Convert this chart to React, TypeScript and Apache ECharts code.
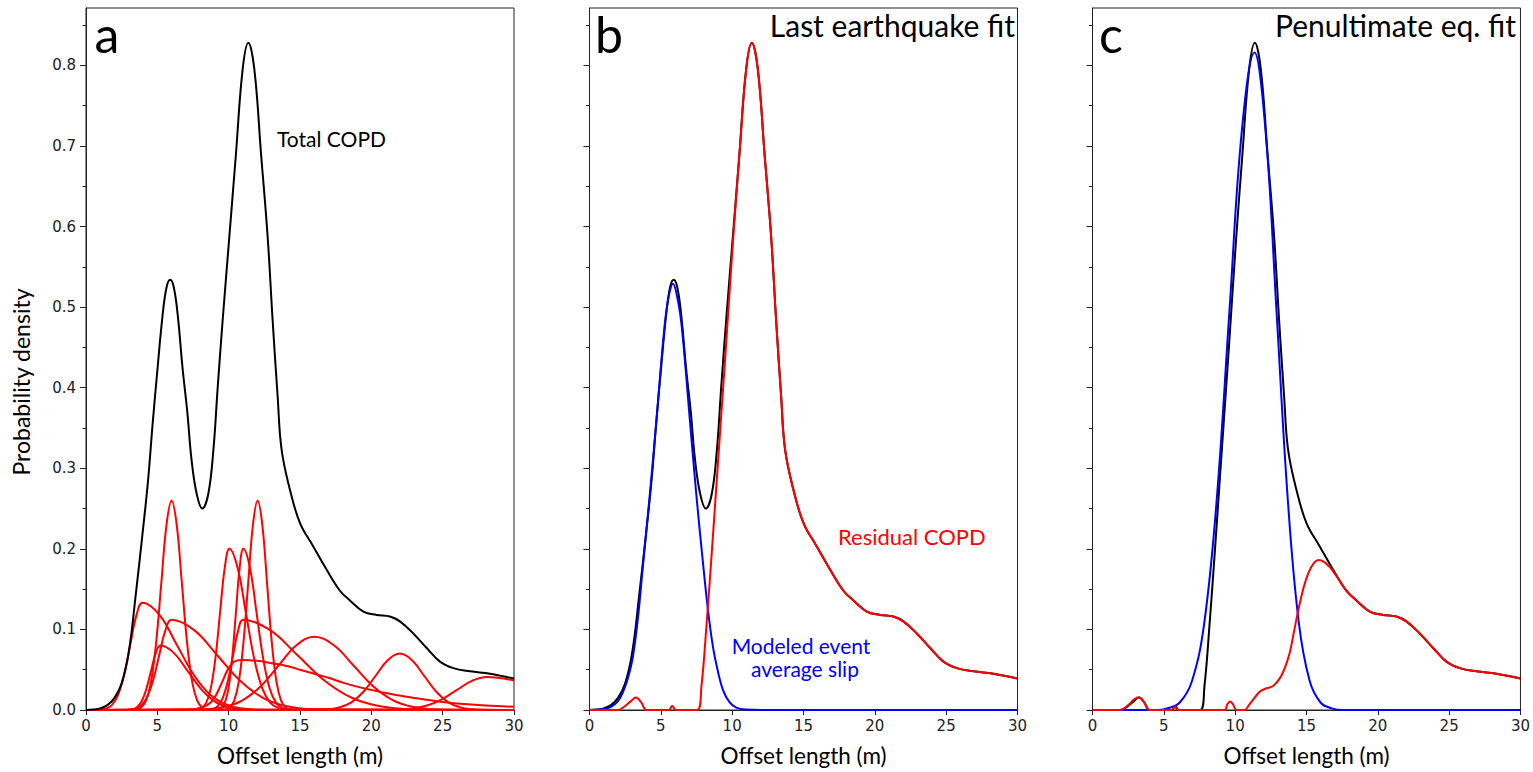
import React, { useEffect, useRef } from "react";
import * as echarts from "echarts";

// ---- tick values ----
const xTicks = [0, 5, 10, 15, 20, 25, 30];
const yTicks = [0, 0.1, 0.2, 0.3, 0.4, 0.5, 0.6, 0.7, 0.8];
const yMinorTicks = [0.05, 0.15, 0.25, 0.35, 0.45, 0.55, 0.65, 0.75, 0.85];

// ---- panel a: total COPD (black) ----
const totalCOPD: number[][] = [
  [0, 0], [0.5, 0.0005], [1, 0.002], [1.5, 0.006], [2, 0.015], [2.5, 0.033], [3, 0.072], [3.5, 0.145],
  [4, 0.225], [4.35, 0.285], [4.67, 0.355], [5.02, 0.425], [5.37, 0.49], [5.65, 0.525], [5.9, 0.534],
  [6.15, 0.525], [6.43, 0.49], [6.78, 0.422], [7.1, 0.37], [7.4, 0.31], [7.76, 0.268], [8.15, 0.25],
  [8.57, 0.268], [8.93, 0.323], [9.23, 0.4], [9.58, 0.484], [10.05, 0.588], [10.51, 0.69], [10.98, 0.795],
  [11.38, 0.828], [11.8, 0.795], [12.27, 0.69], [12.73, 0.588], [13.08, 0.484], [13.43, 0.39], [13.71, 0.323],
  [14.3, 0.273], [15, 0.232], [15.93, 0.203], [16.87, 0.174], [17.8, 0.148], [18.5, 0.136], [19.44, 0.122],
  [20.37, 0.118], [21.3, 0.116], [22, 0.11], [22.94, 0.095], [23.88, 0.077], [24.81, 0.06], [25.75, 0.052],
  [26.92, 0.048], [28.32, 0.045], [30, 0.039],
];

// ---- panel a: individual offset PDFs (red) ----
const redA: number[][] = [[0, 0], [0.925, 0.0003], [1.36, 0.0015], [1.795, 0.0058], [2.23, 0.018], [2.665, 0.0432], [3.1, 0.0807], [3.535, 0.1174], [3.97, 0.133], [5.17, 0.1174], [6.37, 0.0807], [7.57, 0.0432], [8.77, 0.018], [9.97, 0.0058], [11.17, 0.0015], [12.37, 0.0003], [30, 0]];
const redB: number[][] = [[0, 0], [3.48, 0.0006], [3.84, 0.0029], [4.2, 0.0114], [4.56, 0.0352], [4.92, 0.0844], [5.28, 0.1577], [5.64, 0.2295], [6.0, 0.26], [6.36, 0.2295], [6.72, 0.1577], [7.08, 0.0844], [7.44, 0.0352], [7.8, 0.0114], [8.16, 0.0029], [8.52, 0.0006], [30, 0]];
const redC: number[][] = [[0, 0], [2.955, 0.0002], [3.39, 0.0012], [3.825, 0.0049], [4.26, 0.0152], [4.695, 0.0364], [5.13, 0.0679], [5.565, 0.0988], [6.0, 0.112], [7.6, 0.0988], [9.2, 0.0679], [10.8, 0.0364], [12.4, 0.0152], [14.0, 0.0049], [15.6, 0.0012], [17.2, 0.0002], [30, 0]];
const redD: number[][] = [[0, 0], [2.91, 0.0002], [3.24, 0.0009], [3.57, 0.0035], [3.9, 0.0108], [4.23, 0.026], [4.56, 0.0485], [4.89, 0.0706], [5.22, 0.08], [6.17, 0.0706], [7.12, 0.0485], [8.07, 0.026], [9.02, 0.0108], [9.97, 0.0035], [10.92, 0.0009], [11.87, 0.0002], [30, 0]];
const redE: number[][] = [[0, 0], [7.775, 0.0004], [8.1, 0.0022], [8.425, 0.0088], [8.75, 0.0271], [9.075, 0.0649], [9.4, 0.1213], [9.725, 0.1765], [10.05, 0.2], [10.625, 0.1765], [11.2, 0.1213], [11.775, 0.0649], [12.35, 0.0271], [12.925, 0.0088], [13.5, 0.0022], [14.075, 0.0004], [30, 0]];
const redF: number[][] = [[0, 0], [9.21, 0.0004], [9.47, 0.0022], [9.73, 0.0088], [9.99, 0.0271], [10.25, 0.0649], [10.51, 0.1213], [10.77, 0.1765], [11.03, 0.2], [11.49, 0.1765], [11.95, 0.1213], [12.41, 0.0649], [12.87, 0.0271], [13.33, 0.0088], [13.79, 0.0022], [14.25, 0.0004], [30, 0]];
const redG: number[][] = [[0, 0], [9.72, 0.0006], [10.05, 0.0029], [10.38, 0.0114], [10.71, 0.0352], [11.04, 0.0844], [11.37, 0.1577], [11.7, 0.2295], [12.03, 0.26], [12.36, 0.2295], [12.69, 0.1577], [13.02, 0.0844], [13.35, 0.0352], [13.68, 0.0114], [14.01, 0.0029], [14.34, 0.0006], [30, 0]];
const redH: number[][] = [[0, 0], [8.51, 0.0002], [8.87, 0.0012], [9.23, 0.0049], [9.59, 0.0152], [9.95, 0.0364], [10.31, 0.0679], [10.67, 0.0988], [11.03, 0.112], [12.93, 0.0988], [14.83, 0.0679], [16.73, 0.0364], [18.63, 0.0152], [20.53, 0.0049], [22.43, 0.0012], [24.33, 0.0002], [30, 0]];
const redI: number[][] = [[0, 0], [7.5, 0.001], [8.5, 0.006], [9.0, 0.015], [9.5, 0.033], [10, 0.052], [10.5, 0.061], [11, 0.062], [12, 0.061], [13, 0.058], [14, 0.055], [15, 0.05], [16, 0.045], [17, 0.04], [18, 0.034], [19, 0.029], [20, 0.025], [21, 0.021], [22, 0.018], [23, 0.015], [24, 0.0125], [25, 0.01], [26, 0.008], [28, 0.0055], [30, 0.004]];
const redJ: number[][] = [[0, 0], [7.25, 0.0002], [8.5, 0.001], [9.75, 0.004], [11.0, 0.0123], [12.25, 0.0295], [13.5, 0.0552], [14.75, 0.0803], [16.0, 0.091], [17.375, 0.0803], [18.75, 0.0552], [20.125, 0.0295], [21.5, 0.0123], [22.875, 0.004], [24.25, 0.001], [25.625, 0.0002], [30, 0]];
const redK: number[][] = [[0, 0], [16.05, 0.0002], [16.9, 0.0008], [17.75, 0.0031], [18.6, 0.0095], [19.45, 0.0227], [20.3, 0.0425], [21.15, 0.0618], [22.0, 0.07], [22.85, 0.0618], [23.7, 0.0425], [24.55, 0.0227], [25.4, 0.0095], [26.25, 0.0031], [27.1, 0.0008], [27.95, 0.0002], [30, 0]];
const redL: number[][] = [[0, 0], [20.75, 0.0001], [21.8, 0.0005], [22.85, 0.0018], [23.9, 0.0055], [24.95, 0.0133], [26.0, 0.0249], [27.05, 0.0362], [28.1, 0.041], [30, 0.0365]];
const offsetPDFs = [redA, redB, redC, redD, redE, redF, redG, redH, redI, redJ, redK, redL];

// ---- panel b: last earthquake fit ----
const lastEventFit: number[][] = [
  [0, 0], [1, 0.001], [1.5, 0.004], [2, 0.011], [2.34, 0.022], [2.7, 0.04], [3.04, 0.066], [3.4, 0.115],
  [3.74, 0.178], [4.2, 0.262], [4.67, 0.355], [5.2, 0.465], [5.5, 0.508], [5.85, 0.529], [6.2, 0.508],
  [6.5, 0.47], [7.01, 0.365], [7.5, 0.265], [7.94, 0.185], [8.3, 0.125], [8.64, 0.08], [9.0, 0.048],
  [9.35, 0.025], [9.8, 0.01], [10.28, 0.003], [11, 0.0005], [12, 0], [30, 0],
];
const residualAfterLast: number[][] = [
  [0, 0], [2.0, 0], [2.5, 0.005], [2.9, 0.011], [3.26, 0.0155], [3.6, 0.01], [3.85, 0.002], [3.95, 0],
  [5.55, 0], [5.8, 0.005], [6.05, 0], [7.55, 0], [7.85, 0.03], [8.2, 0.105], [8.55, 0.19], [8.9, 0.28],
  [9.23, 0.365], [9.58, 0.455], [10.05, 0.58], [10.51, 0.69], [10.98, 0.795], [11.38, 0.828], [11.8, 0.795],
  [12.27, 0.69], [12.73, 0.588], [13.08, 0.484], [13.43, 0.39], [13.71, 0.323], [14.3, 0.273], [15, 0.232],
  [15.93, 0.203], [16.87, 0.174], [17.8, 0.148], [18.5, 0.136], [19.44, 0.122], [20.37, 0.118], [21.3, 0.116],
  [22, 0.11], [22.94, 0.095], [23.88, 0.077], [24.81, 0.06], [25.75, 0.052], [26.92, 0.048], [28.32, 0.045],
  [30, 0.039],
];

// ---- panel c: penultimate earthquake fit ----
const penultEventFit: number[][] = [
  [0, 0], [4.5, 0], [5.225, 0.002], [6.1, 0.009], [6.975, 0.036], [7.85, 0.11], [8.725, 0.265], [9.6, 0.495],
  [10.475, 0.72], [11.35, 0.816], [12.125, 0.72], [12.9, 0.495], [13.675, 0.265], [14.45, 0.11], [15.225, 0.036],
  [16.0, 0.009], [16.78, 0.002], [17.5, 0], [30, 0],
];
const residualAfterPenult: number[][] = [
  [0, 0], [1.9, 0], [2.5, 0.006], [2.9, 0.013], [3.26, 0.0157], [3.6, 0.01], [3.85, 0.002], [3.95, 0],
  [5.55, 0], [5.78, 0.004], [6.0, 0], [9.25, 0], [9.45, 0.007], [9.64, 0.0104], [9.85, 0.007], [10.1, 0],
  [10.65, 0], [11.0, 0.007], [11.4, 0.016], [11.74, 0.023], [12.2, 0.027], [12.68, 0.03], [13.15, 0.04],
  [13.5, 0.053], [13.84, 0.072], [14.1, 0.095], [14.43, 0.124], [14.8, 0.152], [15.13, 0.17], [15.5, 0.182],
  [15.83, 0.186], [16.2, 0.184], [16.6, 0.178], [16.87, 0.172], [17.3, 0.161], [17.8, 0.148], [18.5, 0.136],
  [19.44, 0.122], [20.37, 0.118], [21.3, 0.116], [22, 0.11], [22.94, 0.095], [23.88, 0.077], [24.81, 0.06],
  [25.75, 0.052], [26.92, 0.048], [28.32, 0.045], [30, 0.039],
];

const RED = "#ff0000";
const BLUE = "#0000ff";
const BLACK = "#000000";
const AXIS = "#222222";
const TXT_FONT = "Lato";
const TICK_FONT = "DejaVu Sans";

export default function App() {
  const ref = useRef<HTMLDivElement>(null);

  useEffect(() => {
    if (!ref.current) return;
    const chart = echarts.init(ref.current, undefined, { renderer: "svg" });

    const lefts = [86, 589.5, 1092.5];
    const Y_MAX = 0.8712;

    const grids = lefts.map((l) => ({
      left: l,
      top: 8,
      width: 428,
      height: 702,
      show: true,
      borderColor: AXIS,
      borderWidth: 1,
      backgroundColor: "transparent",
      containLabel: false,
    }));

    const xAxes = lefts.map((_, i) => ({
      gridIndex: i,
      type: "value",
      min: 0,
      max: 30,
      interval: 5,
      name: "Offset length (m)",
      nameLocation: "middle",
      nameGap: 34,
      nameTextStyle: { fontFamily: TXT_FONT, fontSize: 22.5, color: BLACK },
      axisLine: { show: true, onZero: false, lineStyle: { color: AXIS, width: 1 } },
      axisTick: { show: true, length: 5, customValues: xTicks, lineStyle: { color: AXIS, width: 1 } },
      axisLabel: {
        show: true,
        margin: 8,
        customValues: xTicks,
        fontFamily: TICK_FONT,
        fontSize: 15,
        color: AXIS,
        formatter: (v: number) => String(v),
      },
      splitLine: { show: false },
    }));

    const yAxes: any[] = [];
    lefts.forEach((_, i) => {
      yAxes.push({
        gridIndex: i,
        type: "value",
        min: 0,
        max: Y_MAX,
        interval: 0.1,
        position: "left",
        offset: 0,
        axisLine: { show: true, onZero: false, lineStyle: { color: AXIS, width: 1 } },
        axisTick: { show: true, length: 6, customValues: yTicks, lineStyle: { color: AXIS, width: 1 } },
        axisLabel: {
          show: i === 0,
          margin: 10,
          customValues: yTicks,
          fontFamily: TICK_FONT,
          fontSize: 15,
          color: AXIS,
          formatter: (v: number) => v.toFixed(1),
        },
        splitLine: { show: false },
      });
    });
    lefts.forEach((_, i) => {
      yAxes.push({
        gridIndex: i,
        type: "value",
        min: 0,
        max: Y_MAX,
        interval: 0.05,
        position: "left",
        offset: 0,
        axisLine: { show: false },
        axisTick: { show: true, length: 3.5, customValues: yMinorTicks, lineStyle: { color: AXIS, width: 1 } },
        axisLabel: { show: false },
        splitLine: { show: false },
      });
    });

    const line = (data: number[][], color: string, gi: number) => ({
      type: "line",
      xAxisIndex: gi,
      yAxisIndex: gi,
      data,
      symbol: "none",
      showSymbol: false,
      smooth: 0.4,
      clip: false,
      silent: true,
      lineStyle: { color, width: 2 },
      emphasis: { disabled: true },
    });

    const series: any[] = [];
    offsetPDFs.forEach((d) => series.push(line(d, RED, 0)));
    series.push(line(totalCOPD, BLACK, 0));
    series.push(line(totalCOPD, BLACK, 1));
    series.push(line(lastEventFit, BLUE, 1));
    series.push(line(residualAfterLast, RED, 1));
    series.push(line(residualAfterLast, BLACK, 2));
    series.push(line(penultEventFit, BLUE, 2));
    series.push(line(residualAfterPenult, RED, 2));

    const txt = (text: string, x: number, y: number, size: number, color: string, align = "left", rotation = 0) => ({
      type: "text",
      x,
      y,
      rotation,
      silent: true,
      style: { text, fontFamily: TXT_FONT, fontSize: size, fill: color, align, verticalAlign: "middle" },
    });

    chart.setOption({
      animation: false,
      backgroundColor: "#ffffff",
      grid: grids,
      xAxis: xAxes,
      yAxis: yAxes,
      series,
      graphic: [
        txt("a", 94.5, 33.6, 50, BLACK),
        txt("b", 595, 33.6, 50, BLACK),
        txt("c", 1099, 33.6, 50, BLACK),
        txt("Last earthquake fit", 1015, 25.4, 30, BLACK, "right"),
        txt("Penultimate eq. fit", 1516, 25.4, 30, BLACK, "right"),
        txt("Total COPD", 277, 138.9, 21, BLACK),
        txt("Residual COPD", 838, 536.5, 22, RED),
        txt("Modeled event", 801, 645.9, 21, BLUE, "center"),
        txt("average slip", 805, 668.9, 21, BLUE, "center"),
        txt("Probability density", 20.6, 382, 23, BLACK, "center", Math.PI / 2),
      ],
    });

    return () => chart.dispose();
  }, []);

  return (
    <div
      ref={ref}
      style={{ position: "fixed", left: 0, top: 0, width: 1533, height: 772, background: "#fff" }}
    />
  );
}
